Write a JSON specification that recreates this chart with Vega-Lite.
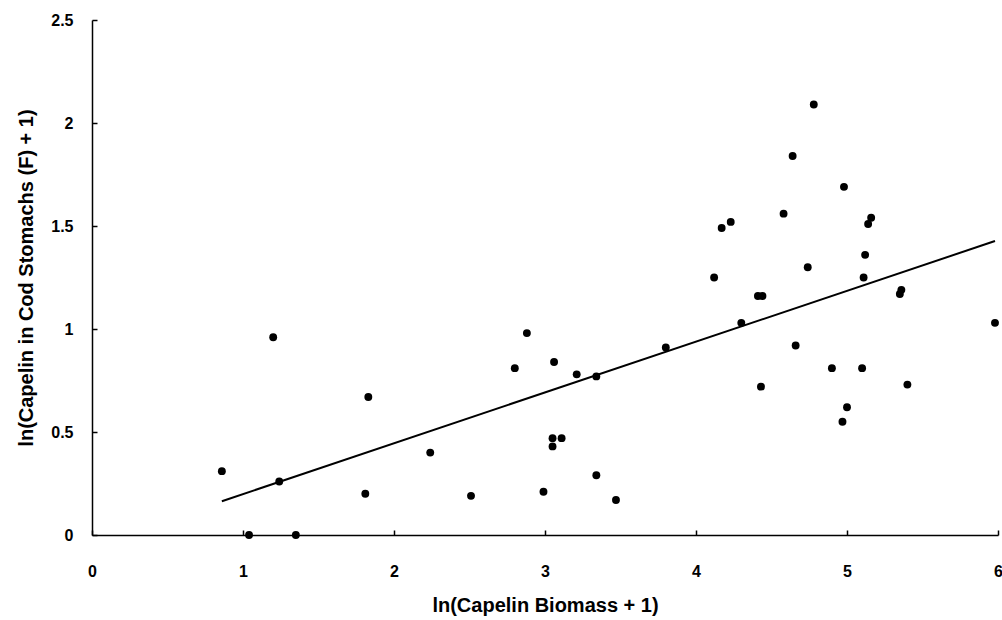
{
  "$schema": "https://vega.github.io/schema/vega-lite/v6.json",
  "width": 906,
  "height": 515,
  "autosize": {"type": "none"},
  "padding": {"left": 92, "top": 20, "right": 4, "bottom": 85},
  "background": "white",
  "config": {
    "view": {"stroke": null},
    "font": "Liberation Sans",
    "axis": {
      "grid": false,
      "domainColor": "black",
      "domainWidth": 1.5,
      "tickColor": "black",
      "tickWidth": 1.5,
      "labelColor": "black",
      "labelFont": "Liberation Sans",
      "labelFontWeight": "bold",
      "labelFontSize": 16,
      "titleFont": "Liberation Sans",
      "titleFontWeight": "bold",
      "titleFontSize": 20,
      "titleColor": "black"
    }
  },
  "datasets": {
    "points": [
      {"x": 0.86, "y": 0.31}, {"x": 1.04, "y": 0.0}, {"x": 1.20, "y": 0.96}, {"x": 1.24, "y": 0.26},
      {"x": 1.35, "y": 0.0}, {"x": 1.81, "y": 0.20}, {"x": 1.83, "y": 0.67}, {"x": 2.24, "y": 0.40},
      {"x": 2.51, "y": 0.19}, {"x": 2.80, "y": 0.81}, {"x": 2.88, "y": 0.98}, {"x": 2.99, "y": 0.21},
      {"x": 3.05, "y": 0.47}, {"x": 3.05, "y": 0.43}, {"x": 3.06, "y": 0.84}, {"x": 3.11, "y": 0.47},
      {"x": 3.21, "y": 0.78}, {"x": 3.34, "y": 0.77}, {"x": 3.34, "y": 0.29}, {"x": 3.47, "y": 0.17},
      {"x": 3.80, "y": 0.91}, {"x": 4.12, "y": 1.25}, {"x": 4.17, "y": 1.49}, {"x": 4.23, "y": 1.52},
      {"x": 4.30, "y": 1.03}, {"x": 4.41, "y": 1.16}, {"x": 4.44, "y": 1.16}, {"x": 4.43, "y": 0.72},
      {"x": 4.58, "y": 1.56}, {"x": 4.64, "y": 1.84}, {"x": 4.66, "y": 0.92}, {"x": 4.74, "y": 1.30},
      {"x": 4.78, "y": 2.09}, {"x": 4.90, "y": 0.81}, {"x": 4.97, "y": 0.55}, {"x": 4.98, "y": 1.69},
      {"x": 5.00, "y": 0.62}, {"x": 5.10, "y": 0.81}, {"x": 5.11, "y": 1.25}, {"x": 5.12, "y": 1.36},
      {"x": 5.14, "y": 1.51}, {"x": 5.16, "y": 1.54}, {"x": 5.35, "y": 1.17}, {"x": 5.36, "y": 1.19},
      {"x": 5.40, "y": 0.73}, {"x": 5.98, "y": 1.03}
    ],
    "fit": [
      {"x": 0.86, "y": 0.164},
      {"x": 5.98, "y": 1.427}
    ]
  },
  "layer": [
    {
      "data": {"name": "fit"},
      "mark": {"type": "line", "color": "black", "strokeWidth": 2},
      "encoding": {
        "x": {"field": "x", "type": "quantitative"},
        "y": {"field": "y", "type": "quantitative"}
      }
    },
    {
      "data": {"name": "points"},
      "mark": {"type": "circle", "color": "black", "opacity": 1, "size": 62},
      "encoding": {
        "x": {
          "field": "x", "type": "quantitative",
          "scale": {"domain": [0, 6], "nice": false, "zero": false},
          "axis": {
            "title": "ln(Capelin Biomass + 1)",
            "values": [0, 1, 2, 3, 4, 5, 6],
            "format": "~g",
            "tickSize": -5,
            "labelPadding": 33,
            "titlePadding": 16,
            "labelFlush": false
          }
        },
        "y": {
          "field": "y", "type": "quantitative",
          "scale": {"domain": [0, 2.5], "nice": false, "zero": false},
          "axis": {
            "title": "ln(Capelin in Cod Stomachs (F) + 1)",
            "values": [0, 0.5, 1, 1.5, 2, 2.5],
            "format": "~g",
            "tickSize": -5,
            "labelPadding": 24,
            "titlePadding": 14,
            "labelFlush": false
          }
        }
      }
    }
  ]
}
